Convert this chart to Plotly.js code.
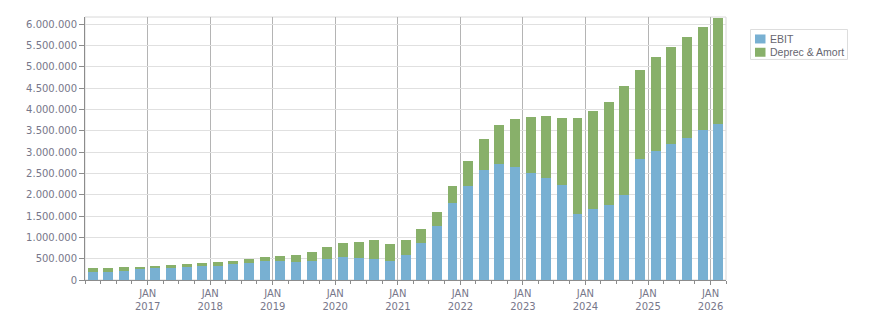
<!DOCTYPE html>
<html><head><meta charset="utf-8">
<script src="https://cdn.plot.ly/plotly-3.0.1.min.js"></script>
<style>html,body{margin:0;padding:0;background:#fff}#chart{width:876px;height:313px}</style>
</head><body><div id="chart"></div>
<script>
const quarters = ['2016-01-01','2016-04-01','2016-07-01','2016-10-01','2017-01-01','2017-04-01','2017-07-01','2017-10-01','2018-01-01','2018-04-01','2018-07-01','2018-10-01','2019-01-01','2019-04-01','2019-07-01','2019-10-01','2020-01-01','2020-04-01','2020-07-01','2020-10-01','2021-01-01','2021-04-01','2021-07-01','2021-10-01','2022-01-01','2022-04-01','2022-07-01','2022-10-01','2023-01-01','2023-04-01','2023-07-01','2023-10-01','2024-01-01','2024-04-01','2024-07-01','2024-10-01','2025-01-01','2025-04-01','2025-07-01','2025-10-01','2026-01-01'];
const ebit = [195000,195000,218000,250000,289000,289000,312000,336000,336000,383000,406000,453000,453000,430000,453000,500000,547000,524000,500000,453000,594000,876000,1275000,1815000,2214000,2589000,2730000,2660000,2519000,2401000,2237000,1556000,1673000,1767000,2002000,2847000,3035000,3200000,3340000,3528000,3669000];
const deprec = [94000,94000,94000,62000,47000,70000,71000,70000,94000,70000,94000,94000,117000,164000,211000,281000,328000,375000,446000,399000,352000,328000,328000,399000,586000,728000,916000,1126000,1314000,1456000,1573000,2254000,2301000,2419000,2559000,2090000,2207000,2277000,2371000,2418000,2488000];
const tickDates = ['2017-01-01','2018-01-01','2019-01-01','2020-01-01','2021-01-01','2022-01-01','2023-01-01','2024-01-01','2025-01-01','2026-01-01'];
const tickLabels = tickDates.map(d => 'JAN<br>' + d.slice(0,4));
const seriesNames = ['EBIT','Deprec & Amort'];
const seriesColors = ['#78B0D2','#88B06A'];

const common = {type:'bar', x:quarters, xperiod:'M3', xperiodalignment:'middle', hoverinfo:'skip', showlegend:false};
const data = [
  Object.assign({}, common, {name:seriesNames[0], y:ebit, marker:{color:seriesColors[0]}}),
  Object.assign({}, common, {name:seriesNames[1], y:deprec, marker:{color:seriesColors[1]}})
];
const tickFont = {family:'DejaVu Sans, sans-serif', size:10, color:'#77778a'};
const legFont = {family:'Liberation Sans, sans-serif', size:10.5, color:'#666670'};

// custom legend (paper coordinates relative to plot area)
const W = 641, H = 263.3, L = 85, T = 17;
const px = x => (x - L) / W;
const py = y => (T + H - y) / H;
const shapes = [
  {type:'rect', xref:'paper', yref:'paper', x0:0, x1:1, y0:0, y1:1, line:{color:'#d8d8d8', width:1}, layer:'below'},
  {type:'rect', xref:'paper', yref:'paper', x0:px(750.5), x1:px(847.5), y0:py(59.5), y1:py(29.5), line:{color:'#dddddd', width:1}, fillcolor:'#fff'}
];
const annotations = [];
seriesNames.forEach((n, i) => {
  const yc = 39 + i * 13.3;
  shapes.push({type:'rect', xref:'paper', yref:'paper', x0:px(755), x1:px(765.5), y0:py(yc + 4.5), y1:py(yc - 4.5), line:{width:0}, fillcolor:seriesColors[i]});
  annotations.push({xref:'paper', yref:'paper', x:px(768), y:py(yc), xanchor:'left', yanchor:'middle', showarrow:false, text:n, font:legFont});
});

const layout = {
  width:876, height:313,
  margin:{l:85, r:150, t:17, b:33, pad:0},
  barmode:'stack', bargap:0.36,
  separators:',.',
  paper_bgcolor:'#fff', plot_bgcolor:'#fff',
  showlegend:false,
  xaxis:{type:'date', range:['2016-01-01','2026-04-01'], tickmode:'array', tickvals:tickDates, ticktext:tickLabels,
    showgrid:true, gridcolor:'#b4b4b4', gridwidth:1, ticks:'outside', ticklen:4, tickcolor:'#8c8c8c', tickfont:tickFont,
    showline:true, linecolor:'#8c8c8c', linewidth:1, zeroline:false,
    minor:{dtick:'M3', tick0:'2016-01-01', ticks:'outside', ticklen:3, tickcolor:'#8c8c8c', showgrid:false}},
  yaxis:{range:[0,6170000], dtick:500000, tick0:0, tickformat:',d', showgrid:true, gridcolor:'#e0e0e0',
    ticks:'outside', ticklen:5, tickcolor:'#8c8c8c', tickfont:tickFont, showline:true, linecolor:'#8c8c8c', linewidth:1, zeroline:false},
  shapes: shapes,
  annotations: annotations
};
Plotly.newPlot('chart', data, layout, {staticPlot:true, displayModeBar:false});
</script></body></html>
